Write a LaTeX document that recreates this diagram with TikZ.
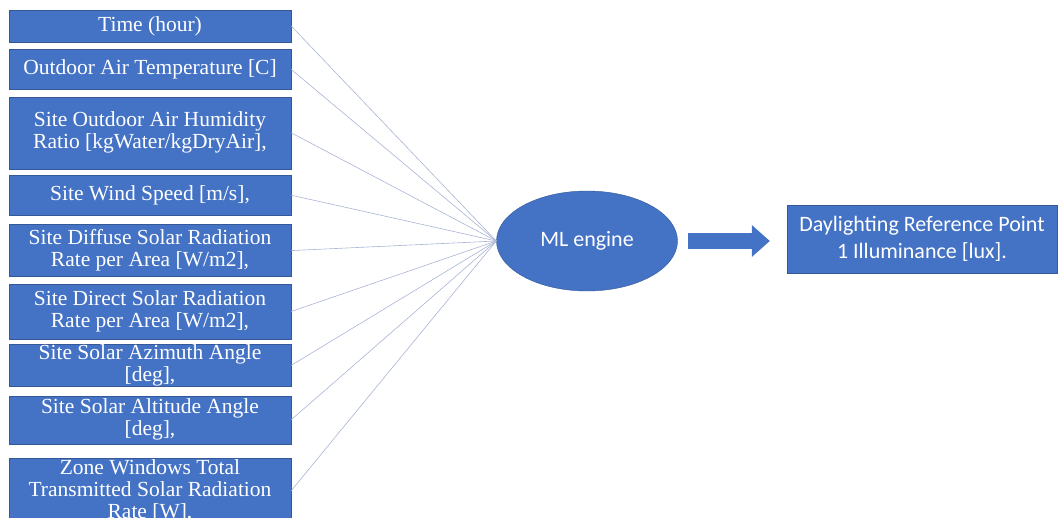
\documentclass[tikz,border=0pt]{standalone}
\usepackage{fontspec}
\setmainfont{Liberation Serif}
\newfontfamily\calibri{Carlito}
\usetikzlibrary{shapes.geometric, arrows.meta, positioning}
\definecolor{boxblue}{RGB}{68,114,196}
\definecolor{edgeblue}{RGB}{52,88,152}
\definecolor{linkblue}{RGB}{168,180,212}
\tikzset{
    input/.style={rectangle, minimum width=282pt, inner xsep=2pt, inner ysep=0pt, align=center, draw=edgeblue, line width=0.4pt, fill=boxblue, text=white, font=\fontsize{21.5}{22}\selectfont},
    engine/.style={ellipse, minimum width=181pt, minimum height=100pt, draw=edgeblue, line width=0.4pt, fill=boxblue, text=white, font=\calibri\fontsize{22}{26}\selectfont},
    output/.style={rectangle, minimum width=270pt, minimum height=68pt, align=center, draw=edgeblue, line width=0.4pt, fill=boxblue, text=white, font=\calibri\fontsize{22}{27}\selectfont},
    link/.style={draw=linkblue, line width=0.6pt},
    fat/.style={draw=boxblue, line width=16pt, -{Triangle[width=32pt, length=18pt, line width=0pt]}}
}
\begin{document}
\begin{tikzpicture}[x=1pt, y=-1pt, node distance=7pt]
    \useasboundingbox (0,0) rectangle (1058,518);
    \node (time) [input, minimum height=32pt] at (150,26) {Time (hour)};
    \node (temp) [input, minimum height=40pt, below=of time] {Outdoor Air Temperature [C]};
    \node (humid) [input, minimum height=72pt, below=of temp] {Site Outdoor Air Humidity\\Ratio [kgWater/kgDryAir],};
    \node (wind) [input, minimum height=40pt, below=6pt of humid] {Site Wind Speed [m/s],};
    \node (diffuse) [input, minimum height=52pt, below=9pt of wind] {Site Diffuse Solar Radiation\\Rate per Area [W/m2],};
    \node (direct) [input, minimum height=55pt, below=of diffuse] {Site Direct Solar Radiation\\Rate per Area [W/m2],};
    \node (azimuth) [input, minimum height=42pt, below=5pt of direct] {Site Solar Azimuth Angle\\{}[deg],};
    \node (altitude) [input, minimum height=48pt, below=9pt of azimuth] {Site Solar Altitude Angle\\{}[deg],};
    \node (transmit) [input, minimum height=65pt, below=14pt of altitude] {Zone Windows Total\\Transmitted Solar Radiation\\Rate [W],};
    \node (engine) [engine] at (587,241) {ML engine};
    \node (illum) [output] at (922,239) {Daylighting Reference Point\\1 Illuminance [lux].};

    \draw [link] (time.east) -- (engine.west);
    \draw [link] (temp.east) -- (engine.west);
    \draw [link] (humid.east) -- (engine.west);
    \draw [link] (wind.east) -- (engine.west);
    \draw [link] (diffuse.east) -- (engine.west);
    \draw [link] (direct.east) -- (engine.west);
    \draw [link] (azimuth.east) -- (engine.west);
    \draw [link] (altitude.east) -- (engine.west);
    \draw [link] (transmit.east) -- (engine.west);
    \draw [fat] ([xshift=10pt]engine.east) -- ([xshift=-17pt]engine.east -| illum.west);
\end{tikzpicture}
\end{document}
